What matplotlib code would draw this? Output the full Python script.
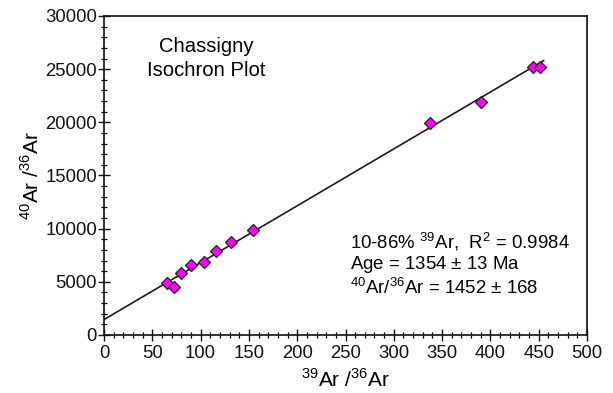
import matplotlib
matplotlib.use("Agg")
import matplotlib.pyplot as plt
from matplotlib.ticker import MultipleLocator
import numpy as np

plt.rcParams['font.family'] = ['Liberation Sans', 'DejaVu Sans']
plt.rcParams['mathtext.fontset'] = 'custom'
plt.rcParams['mathtext.rm'] = 'Liberation Sans'

ar39_ar36 = [64.8, 72.5, 79.4, 89.7, 103.5, 116.0, 131.0, 154.0, 337.5, 390.0, 444.0, 451.0]
ar40_ar36 = [4860, 4550, 5860, 6590, 6840, 7870, 8750, 9850, 19900, 21900, 25250, 25250]
intercept = 1452
slope = 53.5
fit_x = [0, 455]

fig = plt.figure(figsize=(6.13, 3.93), dpi=100)
ax = fig.add_axes([0.1697, 0.1476, 0.9576 - 0.1697, 0.9593 - 0.1476])

fx = np.array(fit_x, dtype=float)
ax.plot(fx, intercept + slope * fx, color='#1a1a1a', lw=1.2, zorder=2)
ax.plot(ar39_ar36, ar40_ar36, 'D', ms=6.3, mfc='#ff00ff', mec='#222222', mew=0.9, zorder=3, ls='none')

ax.set_xlim(0, 500)
ax.set_ylim(0, 30000)
ax.xaxis.set_major_locator(MultipleLocator(50))
ax.xaxis.set_minor_locator(MultipleLocator(10))
ax.yaxis.set_major_locator(MultipleLocator(5000))
ax.yaxis.set_minor_locator(MultipleLocator(1000))
ax.tick_params(which='major', direction='inout', length=8, width=1.0, labelsize=13.3, colors='#111111')
ax.tick_params(which='minor', direction='inout', length=5, width=0.9)
ax.tick_params(axis='x', pad=3)
ax.tick_params(axis='y', pad=1)
for s in ax.spines.values():
    s.set_linewidth(1.2)
    s.set_color('#111111')

ax.set_xlabel(r'$^{39}$Ar /$^{36}$Ar', fontsize=15, labelpad=5)
ax.set_ylabel(r'$^{40}$Ar /$^{36}$Ar', fontsize=15, labelpad=2)

ax.text(0.211, 0.867, 'Chassigny\nIsochron Plot', transform=ax.transAxes, ha='center', va='center',
        fontsize=14.6, linespacing=1.3)

ax.text(0.509, 0.2226, '10-86% $^{39}$Ar,  R$^{2}$ = 0.9984\nAge = 1354 $\\pm$ 13 Ma\n$^{40}$Ar/$^{36}$Ar = 1452 $\\pm$ 168',
        transform=ax.transAxes, ha='left', va='center', fontsize=13.4, linespacing=1.12)

fig.savefig('out.png', dpi=100)
